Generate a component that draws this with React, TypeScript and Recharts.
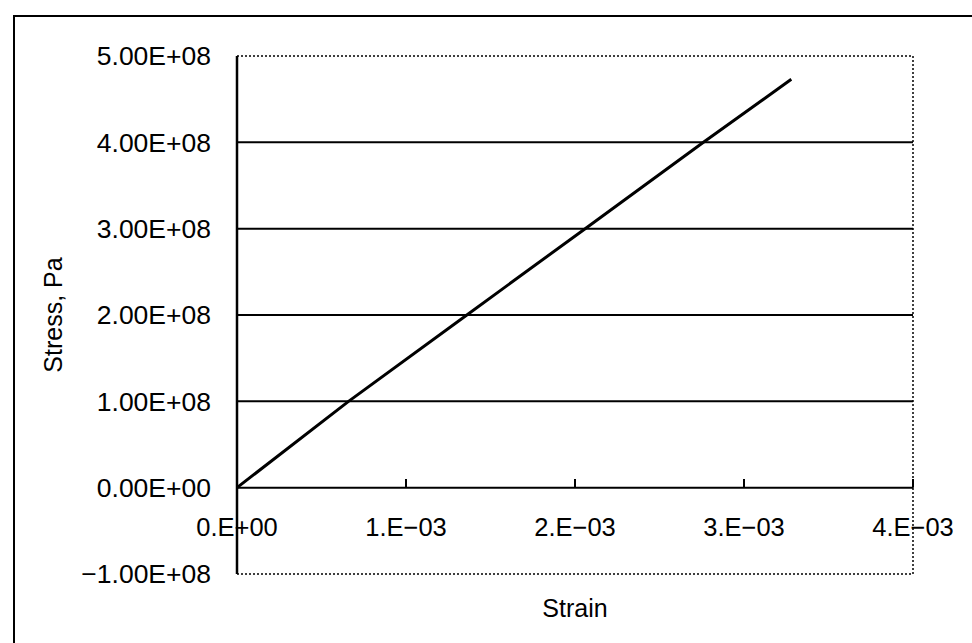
import React from "react";
import {
  LineChart,
  Line,
  XAxis,
  YAxis,
  ReferenceLine,
  ReferenceArea,
} from "recharts";

// strain (-) vs stress (Pa)
const strain = [0, 0.00066, 0.00136, 0.00206, 0.00276, 0.00328];
const stress = [0, 1.0e8, 2.0e8, 3.0e8, 4.0e8, 4.73e8];

const xTicks = [0, 0.001, 0.002, 0.003, 0.004];
const xTickLabels = ["0.E+00", "1.E\u221203", "2.E\u221203", "3.E\u221203", "4.E\u221203"];

const yTicks = [-1e8, 0, 1e8, 2e8, 3e8, 4e8, 5e8];
const yTickLabels = [
  "\u22121.00E+08",
  "0.00E+00",
  "1.00E+08",
  "2.00E+08",
  "3.00E+08",
  "4.00E+08",
  "5.00E+08",
];
const gridValues = [1e8, 2e8, 3e8, 4e8];

const data = strain.map((s, i) => ({ strain: s, stress: stress[i] }));

const FONT = '"Liberation Sans", Arial, sans-serif';

function XTick(props: any) {
  const { x, y, payload } = props;
  const i = xTicks.indexOf(payload.value);
  return (
    <text
      x={x}
      y={y - 47}
      dy="0.35em"
      textAnchor="middle"
      fontFamily={FONT}
      fontSize={25.5}
      fill="#000"
    >
      {xTickLabels[i]}
    </text>
  );
}

function StressLabel(props: any) {
  const { viewBox } = props;
  const cx = viewBox.x + 62;
  const cy = viewBox.y + viewBox.height / 2;
  return (
    <text
      x={cx}
      y={cy}
      transform={`rotate(-90, ${cx}, ${cy})`}
      textAnchor="middle"
      fontFamily={FONT}
      fontSize={25}
      fill="#000"
    >
      Stress, Pa
    </text>
  );
}

export default function App() {
  return (
    <div
      style={{
        position: "absolute",
        left: 0,
        top: 0,
        width: 972,
        height: 643,
        overflow: "hidden",
        background: "#fff",
      }}
    >
      <div
        style={{
          position: "absolute",
          left: 13,
          top: 15,
          width: 1000,
          height: 700,
          borderLeft: "2px solid #000",
          borderTop: "2px solid #000",
        }}
      />
      <div style={{ position: "absolute", left: 0, top: 0 }}>
        <LineChart
          width={972}
          height={643}
          data={data}
          margin={{ top: 56, right: 59, bottom: 0, left: 0 }}
        >
          <ReferenceArea
            x1={0}
            x2={0.004}
            y1={-1e8}
            y2={5e8}
            fill="none"
            stroke="#000"
            strokeWidth={1.5}
            strokeDasharray="2 2"
          />
          {gridValues.map((v) => (
            <ReferenceLine key={v} y={v} stroke="#000" strokeWidth={2} />
          ))}
          <ReferenceLine y={0} stroke="#000" strokeWidth={2} />
          {xTicks.slice(1).map((t) => (
            <ReferenceLine
              key={t}
              segment={[
                { x: t, y: 0 },
                { x: t, y: 1.0e7 },
              ]}
              stroke="#000"
              strokeWidth={2}
            />
          ))}
          <XAxis
            dataKey="strain"
            type="number"
            domain={[0, 0.004]}
            ticks={xTicks}
            axisLine={false}
            tickLine={false}
            tickSize={0}
            tickMargin={0}
            height={69}
            tick={<XTick />}
            label={{
              value: "Strain",
              position: "insideBottom",
              offset: 26,
              fontFamily: FONT,
              fontSize: 25,
              fill: "#000",
            }}
          />
          <YAxis
            type="number"
            domain={[-1e8, 5e8]}
            ticks={yTicks}
            width={237}
            axisLine={{ stroke: "#000", strokeWidth: 2.5 }}
            tickLine={false}
            tickSize={0}
            tickMargin={26}
            tickFormatter={(v: number) => yTickLabels[yTicks.indexOf(v)]}
            tick={{ fontFamily: FONT, fontSize: 26.5, fill: "#000" }}
            label={<StressLabel />}
          />
          <Line
            type="linear"
            dataKey="stress"
            stroke="#000"
            strokeWidth={3}
            dot={false}
            isAnimationActive={false}
          />
        </LineChart>
      </div>
    </div>
  );
}
